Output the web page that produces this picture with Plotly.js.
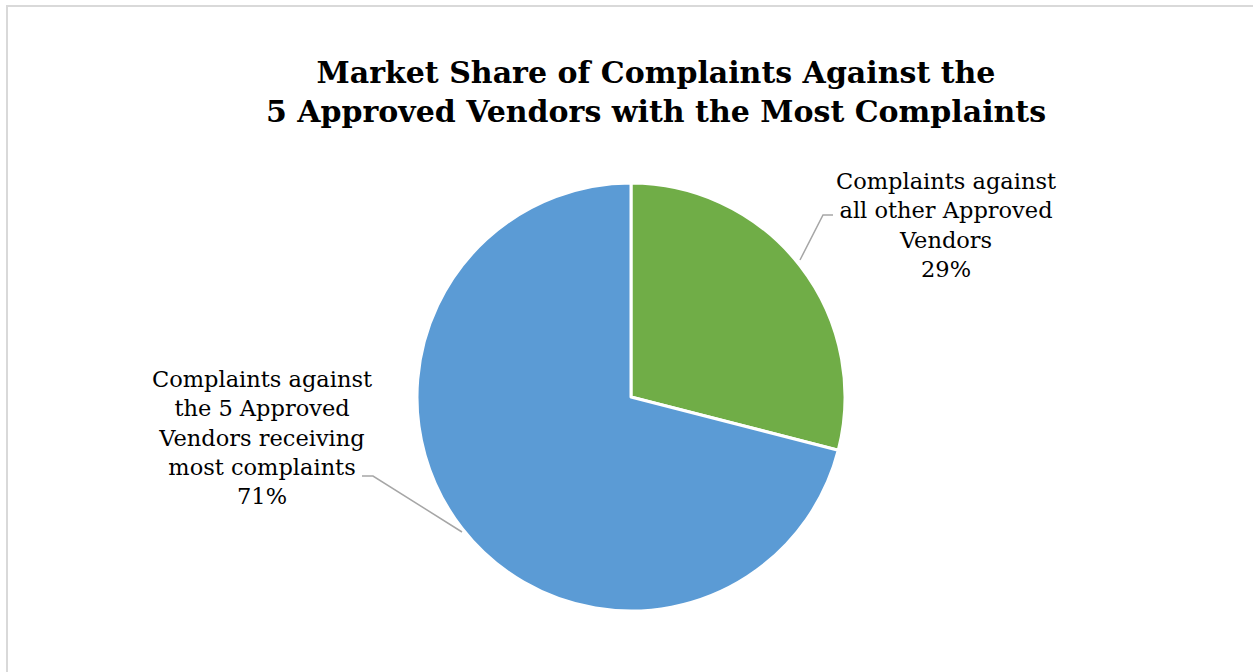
<!DOCTYPE html>
<html>
<head>
<meta charset="utf-8">
<script src="https://cdn.plot.ly/plotly-3.0.1.min.js"></script>
<style>
  html, body { margin: 0; padding: 0; background: #fff; }
  #frame { position: absolute; left: 6px; top: 5px; width: 1247px; height: 667px;
           border-top: 2px solid #d9d9d9; border-left: 2px solid #d9d9d9; pointer-events: none; }
  #chart { width: 1253px; height: 672px; }
</style>
</head>
<body>
<div id="chart"></div>
<div id="frame"></div>
<script>
const categories = [
  "Complaints against<br>all other Approved<br>Vendors",
  "Complaints against<br>the 5 Approved<br>Vendors receiving<br>most complaints"
];
const values = [29, 71];
const colors = ["#70AD47", "#5B9BD5"];

const W = 1253, H = 672;
const px = x => x / W;
const py = y => 1 - y / H;

const total = values.reduce((a, b) => a + b, 0);
const pct = values.map(v => Math.round(v / total * 100) + "%");

const fontFam = "DejaVu Serif, Liberation Serif, serif";

const labelPos = [
  { x: 946, y: 225 },
  { x: 262, y: 437 }
];

const annotations = categories.map((c, i) => ({
  xref: "paper", yref: "paper",
  x: px(labelPos[i].x), y: py(labelPos[i].y),
  xanchor: "center", yanchor: "middle",
  text: c + "<br>" + pct[i],
  showarrow: false,
  align: "center",
  font: { family: fontFam, size: 22.5, color: "#000" }
}));

const leader = (pts) => ({
  type: "path", xref: "paper", yref: "paper",
  path: "M " + pts.map(p => px(p[0]) + "," + py(p[1])).join(" L "),
  line: { color: "#a6a6a6", width: 1.5 }
});

const data = [{
  type: "pie",
  values: values,
  labels: categories,
  marker: { colors: colors, line: { color: "#ffffff", width: 3 } },
  sort: false,
  direction: "clockwise",
  rotation: 0,
  textinfo: "none",
  hoverinfo: "label+percent",
  domain: { x: [px(417), px(845)], y: [py(611), py(183)] },
  showlegend: false
}];

const layout = {
  width: W, height: H,
  margin: { l: 0, r: 0, t: 0, b: 0 },
  paper_bgcolor: "#fff",
  title: {
    text: "<b>Market Share of Complaints Against the<br>5 Approved Vendors with the Most Complaints</b>",
    x: px(656), xanchor: "center",
    y: py(83), yanchor: "middle",
    font: { family: fontFam, size: 30, color: "#000" }
  },
  annotations: annotations,
  shapes: [
    leader([[833, 215], [823, 215], [800, 260]]),
    leader([[362, 476], [373, 476], [462, 532]])
  ]
};

Plotly.newPlot("chart", data, layout, { displayModeBar: false, staticPlot: true });
</script>
</body>
</html>
